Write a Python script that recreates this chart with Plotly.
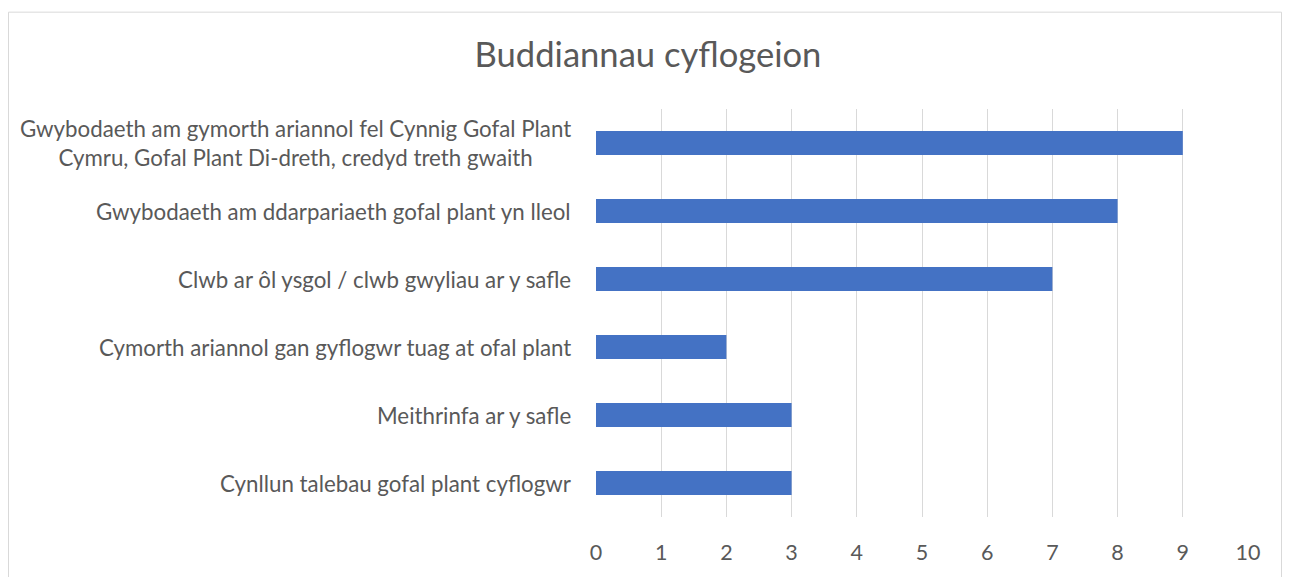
import plotly.graph_objects as go

categories = [
    "Gwybodaeth am gymorth ariannol fel Cynnig Gofal Plant<br>Cymru, Gofal Plant Di-dreth, credyd treth gwaith",
    "Gwybodaeth am ddarpariaeth gofal plant yn lleol",
    "Clwb ar ôl ysgol / clwb gwyliau ar y safle",
    "Cymorth ariannol gan gyflogwr tuag at ofal plant",
    "Meithrinfa ar y safle",
    "Cynllun talebau gofal plant cyflogwr",
]
values = [9, 8, 7, 2, 3, 3]
x_ticks = list(range(0, 11))

OFF = 8  # page body margin
W, H = 1290 - 2 * OFF, 577 - OFF
L, R, T, B = 596 - OFF, 1248 - OFF, 109 - OFF, 524 - OFF

fig = go.Figure(go.Bar(
    x=values, y=categories, orientation="h",
    marker=dict(color="#4472C4", line=dict(width=0)),
))

font = "Lato, Calibri, Carlito, sans-serif"
grey = "#595959"

annotations = [
    dict(text=c, x=0, y=c, xref="paper", yref="y", xanchor="right",
         yanchor="middle", align="center", showarrow=False, xshift=-23,
         font=dict(family=font, size=22.3, color=grey))
    for c in categories
]

fig.update_layout(
    width=W, height=H,
    margin=dict(l=L, r=W - R, t=T, b=H - B, pad=0),
    paper_bgcolor="white", plot_bgcolor="white",
    bargap=0.65,
    showlegend=False,
    title=dict(text="Buddiannau cyflogeion", x=(648 - OFF) / W, xanchor="center",
               y=1 - (55 - OFF) / H, yanchor="middle",
               font=dict(family=font, size=34.6, color=grey)),
    font=dict(family=font, color=grey, size=21),
    xaxis=dict(range=[0, 10], tickvals=x_ticks, showgrid=True,
               gridcolor="#D9D9D9", gridwidth=1, zeroline=False,
               showline=False, ticks="", ticklabelstandoff=20,
               tickfont=dict(size=21.5, color=grey), fixedrange=True),
    yaxis=dict(autorange="reversed", showgrid=False, zeroline=False,
               showline=False, ticks="", showticklabels=False,
               fixedrange=True),
    annotations=annotations,
    shapes=[dict(type="rect", xref="paper", yref="paper",
                 x0=(0.5 - L) / (R - L), x1=(W - 0.5 - L) / (R - L),
                 y0=(B - H - 40) / (B - T), y1=(B - 2.5) / (B - T),
                 line=dict(color="#D9D9D9", width=1), layer="below")],
)

fig.write_html("out.html")
